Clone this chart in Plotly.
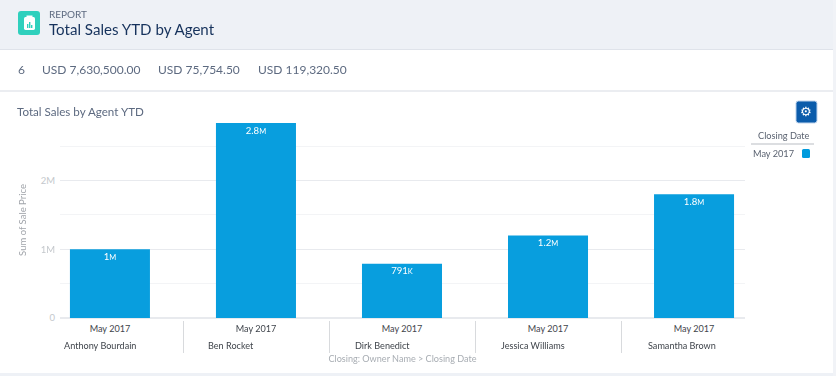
import plotly.graph_objects as go

agents = ["Anthony Bourdain", "Ben Rocket", "Dirk Benedict", "Jessica Williams", "Samantha Brown"]
closing_dates = ["May 2017"] * 5
sales_millions = [1.0, 2.84, 0.791, 1.2, 1.8]
bar_labels = ["1M", "2.8M", "791K", "1.2M", "1.8M"]
y_major_ticks = [0, 1, 2]
y_major_labels = ["0", "1M", "2M"]
y_minor_ticks = [0.5, 1.5, 2.5]
summary_texts = ["6", "USD 7,630,500.00", "USD 75,754.50", "USD 119,320.50"]

W, H = 836, 376
L, R, T, B = 60, 745, 122, 318
FONT = "Lato"
NAVY = "#16325c"
SLATE = "#5d6a80"
BLUE = "#009bdd"


def px(x):
    return (x - L) / (R - L)


def py(y):
    return (B - y) / (B - T)


def rect(x0, y0, x1, y1, fill, line=None, layer="below", width=1):
    return dict(type="rect", xref="paper", yref="paper", x0=px(x0), x1=px(x1), y0=py(y0), y1=py(y1),
                fillcolor=fill, line=dict(color=line or fill, width=width if line else 0), layer=layer)


def rounded(x0, y0, x1, y1, r, fill, line=None, width=1):
    pts = [(x0 + r, y0), (x1 - r, y0), (x1, y0), (x1, y0 + r), (x1, y1 - r), (x1, y1),
           (x1 - r, y1), (x0 + r, y1), (x0, y1), (x0, y1 - r), (x0, y0 + r), (x0, y0), (x0 + r, y0)]
    c = [f"{px(a):.5f},{py(b):.5f}" for a, b in pts]
    path = (f"M{c[0]} L{c[1]} Q{c[2]} {c[3]} L{c[4]} Q{c[5]} {c[6]} L{c[7]} "
            f"Q{c[8]} {c[9]} L{c[10]} Q{c[11]} {c[12]} Z")
    return dict(type="path", xref="paper", yref="paper", path=path, fillcolor=fill,
                line=dict(color=line or fill, width=width if line else 0), layer="below")


def hline(x0, x1, y, color, width=1):
    return dict(type="line", xref="paper", yref="paper", x0=px(x0), x1=px(x1), y0=py(y), y1=py(y),
                line=dict(color=color, width=width), layer="below")


def vline(x, y0, y1, color):
    return dict(type="line", xref="paper", yref="paper", x0=px(x), x1=px(x), y0=py(y0), y1=py(y1),
                line=dict(color=color, width=1), layer="below")


def note(x, y, text, size, color, anchor="left", family=FONT):
    nudge = {"left": -2, "right": 2, "center": 0}[anchor]
    return dict(xref="paper", yref="paper", x=px(x + nudge), y=py(y), text=text, showarrow=False,
                xanchor=anchor, yanchor="middle", align=anchor,
                font=dict(family=family, size=size, color=color))


def small_unit(label):
    if label[-1] in "MK":
        return f'{label[:-1]}<span style="font-size:7.5px">{label[-1]}</span>'
    return label


x_pos = list(range(len(agents)))

fig = go.Figure()
fig.add_bar(
    x=x_pos, y=sales_millions, width=0.548,
    marker=dict(color=BLUE, line=dict(width=0)), opacity=0.97,
    name="May 2017", showlegend=False, hoverinfo="skip",
)
fig.add_scatter(
    x=x_pos, y=sales_millions, mode="markers+text",
    marker=dict(size=4, color="rgba(0,0,0,0)"),
    text=[small_unit(t) for t in bar_labels], textposition="bottom center",
    textfont=dict(family=FONT, size=9.6, color="white"),
    cliponaxis=False, showlegend=False, hoverinfo="skip",
)

shapes = [
    rect(0, 0, W, 49, "#eef1f6"),
    hline(0, W, 49.5, "#dfe3ea"),
    hline(0, W, 91, "#e4e7ec", 1.5),
    rect(0, 373, W, H, "#eef1f6"),
    rect(833, 0, W, H, "#f1f3f7"),
    rounded(18, 11, 40, 35, 3, "#2fd0bd"),
    rounded(24, 17, 35, 30, 1.5, "white"),
    rect(26.5, 15.5, 32.5, 19, "white"),
    rect(27, 24, 28.4, 28, "#2fd0bd"),
    rect(29, 22, 30.4, 28, "#2fd0bd"),
    rect(31, 25, 32.4, 28, "#2fd0bd"),
    rounded(796, 101, 817, 123, 2.5, "#0b5cab", "#bcd2ec", 1),
    hline(751, 814, 144, "#b9bdc3"),
    rounded(802, 149, 810, 158, 1.5, BLUE),
]
for x in [183.5, 329.5, 475.5, 621.5]:
    shapes.append(vline(x, 321, 353, "#d8dadd"))

annotations = [
    note(49, 14.5, "REPORT", 10, SLATE),
    note(49, 29, "Total Sales YTD by Agent", 15.1, NAVY),
    note(18, 69.5, summary_texts[0], 12, SLATE),
    note(42, 69.5, summary_texts[1], 12, SLATE),
    note(158, 69.5, summary_texts[2], 12, SLATE),
    note(258, 69.5, summary_texts[3], 12, SLATE),
    note(17, 111, "Total Sales by Agent YTD", 11.6, SLATE),
    note(806.5, 111.5, "⚙", 13, "white", "center", "DejaVu Sans"),
    note(810, 135, "Closing Date", 9.2, "#5a6270", "right"),
    note(794, 153, closing_dates[0], 9.2, "#5a6270", "right"),
]
for cx, name in zip([99.5, 230.5, 382.5, 533, 681.5], agents):
    annotations.append(note(cx, 345, name, 9.1, "#3f444b", "center"))

fig.update_layout(
    width=W, height=H, autosize=False,
    margin=dict(l=L, r=W - R, t=T, b=H - B, pad=0),
    paper_bgcolor="white", plot_bgcolor="white",
    font=dict(family=FONT, size=10, color="#3f444b"),
    shapes=shapes, annotations=annotations, showlegend=False,
    xaxis=dict(
        range=[-0.342, 4.349], tickmode="array", tickvals=x_pos, ticktext=closing_dates,
        ticks="", showgrid=False, zeroline=False, showline=False, ticklabelstandoff=4,
        tickfont=dict(family=FONT, size=9.1, color="#3f444b"),
        title=dict(text="Closing: Owner Name > Closing Date", standoff=22,
                   font=dict(family=FONT, size=9.1, color="#a8adb3")),
        automargin=False,
    ),
    yaxis=dict(
        range=[0, 2.853], tickmode="array", tickvals=y_major_ticks, ticktext=y_major_labels,
        ticks="", showgrid=True, gridcolor="#e8eaee", gridwidth=1, ticklabelstandoff=4,
        zeroline=True, zerolinecolor="#e8eaee", showline=False,
        minor=dict(tickmode="array", tickvals=y_minor_ticks, showgrid=True, gridcolor="#f3f4f6", gridwidth=1, ticks=""),
        tickfont=dict(family=FONT, size=9.5, color="#c4c8cc"),
        title=dict(text="Sum of Sale Price", standoff=12,
                   font=dict(family=FONT, size=9.5, color="#a0a4aa")),
        automargin=False,
    ),
)

fig.write_html("out.html", config={"displayModeBar": False}, post_script="document.body.style.margin='0';")
